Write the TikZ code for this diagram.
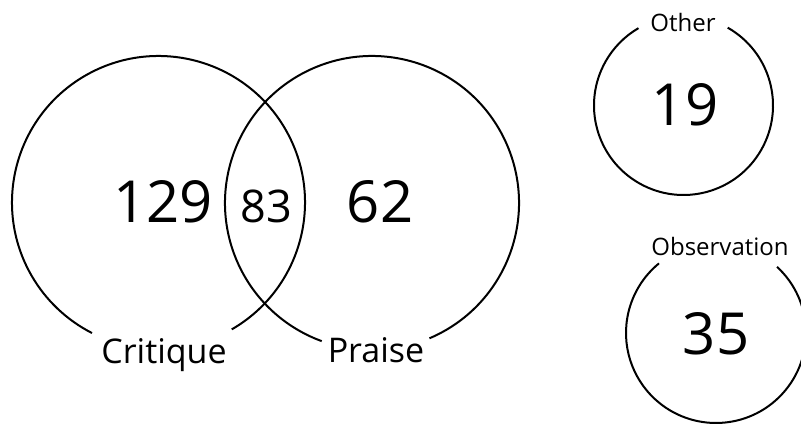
\documentclass[tikz,border=0pt]{standalone}
\usepackage{fontspec}
\setmainfont{Open Sans}
\begin{document}
\begin{tikzpicture}[x=1pt,y=1pt,
  ring/.style={line width=2pt},
  big/.style={font=\fontsize{58}{58}\selectfont, inner sep=0pt, anchor=base},
  mid/.style={font=\fontsize{45}{45}\selectfont, inner sep=0pt, anchor=base},
  lab/.style={font=\fontsize{34}{34}\selectfont, inner sep=0pt, anchor=base},
  small/.style={font=\fontsize{24}{24}\selectfont, inner sep=0pt, anchor=base}]
\useasboundingbox (0,0) rectangle (801,425);
\coordinate (cL) at (158.5,222.5);
\coordinate (cR) at (372,222);
\coordinate (cO) at (683.5,319.5);
\coordinate (cB) at (716,92);
\draw[ring] (cL) ++(-60:146.5) arc[start angle=-60, end angle=243, radius=146.5];
\draw[ring] (cR) ++(-67:147) arc[start angle=-67, end angle=250, radius=147];
\draw[ring] (cO) ++(60.4:89.5) arc[start angle=60.4, end angle=-239.8, radius=89.5];
\draw[ring] (cB) ++(47.3:90) arc[start angle=47.3, end angle=-230.7, radius=90];
\node[big] (n129) at (163,202) {129};
\node[mid] (n83) at (266,202) {83};
\node[big] (n62) at (380,202) {62};
\node[big] (n19) at (685,299) {19};
\node[big] (n35) at (716,70) {35};
\node[lab] (crit) at (164,61) {Critique};
\node[lab] (praise) at (376,62) {Praise};
\node[small] (other) at (683,393) {Other};
\node[small] (obs) at (720,169) {Observation};
\end{tikzpicture}
\end{document}
